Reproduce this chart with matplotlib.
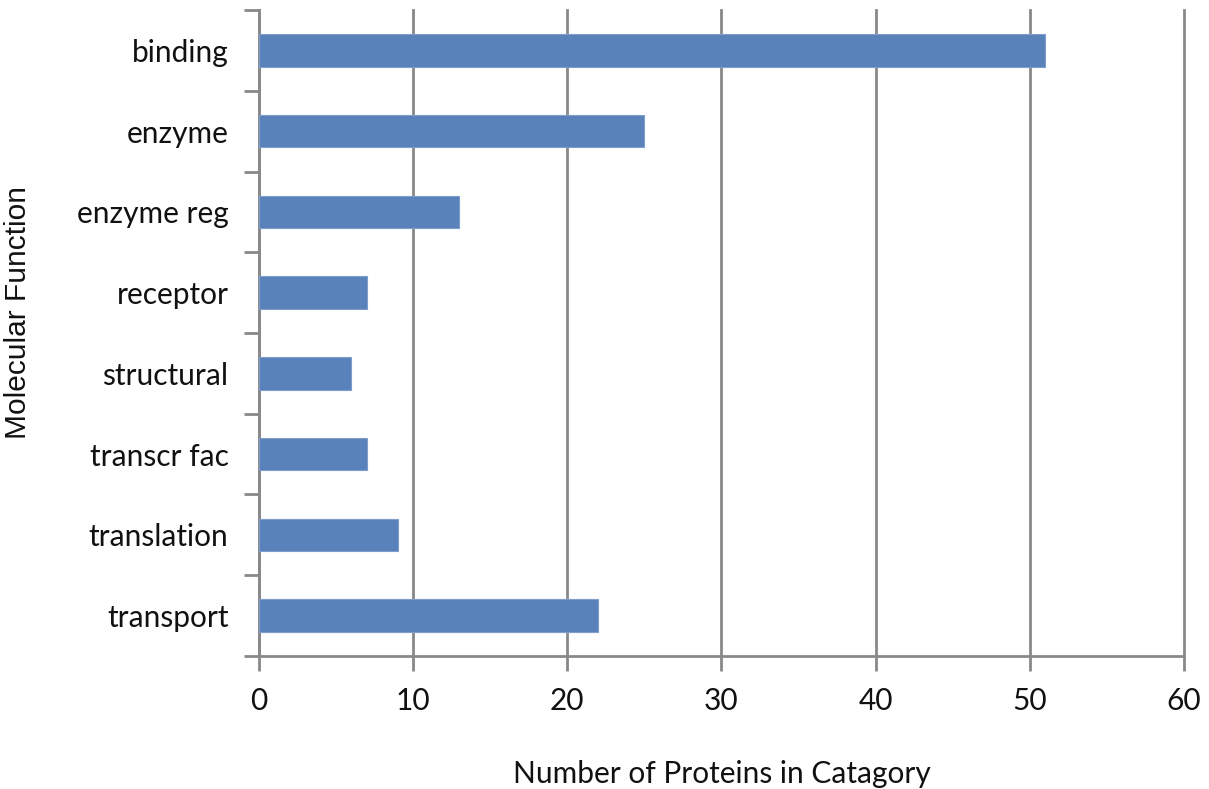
import numpy as np
import matplotlib.pyplot as plt
from matplotlib.ticker import FixedLocator

categories = ['binding', 'enzyme', 'enzyme reg', 'receptor', 'structural',
              'transcr fac', 'translation', 'transport']
counts = [51, 25, 13, 7, 6, 7, 9, 22]
x_ticks = [0, 10, 20, 30, 40, 50, 60]

grey = '#898989'
bar_color = '#5a82ba'

fig = plt.figure(figsize=(12.09, 7.89), dpi=100)
ax = fig.add_axes([0.2142, 0.1686, 0.7651, 0.8187])

y = np.arange(len(categories))
ax.barh(y, counts, height=0.4, color=bar_color, edgecolor='#7e9ccc',
        linewidth=0.8, zorder=3)

ax.set_xlim(0, 60)
ax.set_ylim(len(categories) - 0.5, -0.5)
ax.set_xticks(x_ticks)
ax.set_yticks(y)
ax.set_yticklabels(categories)
ax.yaxis.set_minor_locator(FixedLocator(np.arange(-0.5, len(categories), 1)))

ax.grid(axis='x', color=grey, linewidth=2, zorder=0)
for gl in ax.get_xgridlines():
    gl.set_clip_on(False)
for side in ['top', 'right']:
    ax.spines[side].set_visible(False)
for side in ['left', 'bottom']:
    ax.spines[side].set_color(grey)
    ax.spines[side].set_linewidth(2)

ax.tick_params(axis='y', which='major', length=0, pad=22)
ax.tick_params(axis='y', which='minor', length=11, width=2, color=grey)
ax.tick_params(axis='x', length=11, width=2, color=grey, pad=11)

tick_font = 'Lato'
for lbl in ax.get_xticklabels() + ax.get_yticklabels():
    lbl.set_fontfamily(tick_font)
    lbl.set_fontsize(21.5)
    lbl.set_color('#111111')

ax.set_xlabel('Number of Proteins in Catagory', fontfamily=tick_font,
              fontsize=21.5, labelpad=33, color='#111111')
ax.set_ylabel('Molecular Function', fontfamily='Liberation Sans',
              fontsize=21.5, color='#111111')
ax.yaxis.set_label_coords(-0.245, 0.531)

fig.savefig('out.png', dpi=100)
